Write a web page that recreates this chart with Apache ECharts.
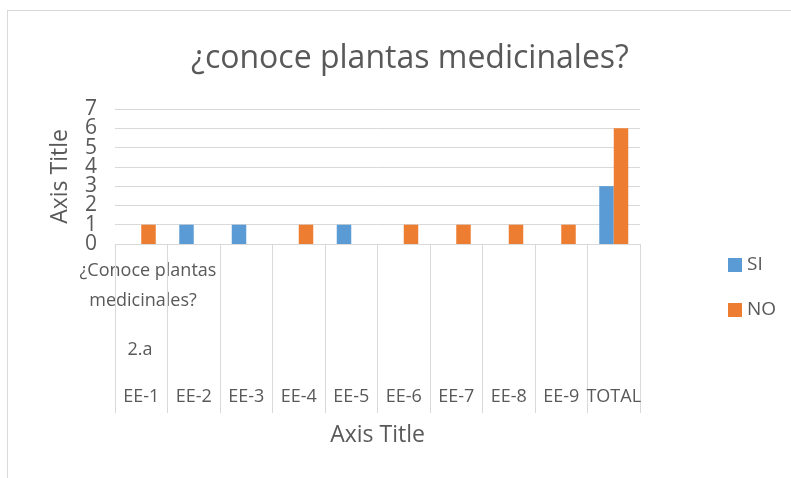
<!DOCTYPE html>
<html>
<head>
<meta charset="utf-8">
<script src="https://cdn.jsdelivr.net/npm/echarts@6/dist/echarts.min.js"></script>
<style>
  html, body { margin: 0; padding: 0; background: #fff; overflow: hidden; }
  #frame { position: absolute; left: 7px; top: 10px; width: 800px; height: 480px; border: 1px solid #d9d9d9; }
  #main { position: absolute; left: 0; top: 0; width: 791px; height: 478px; }
</style>
</head>
<body>
<div id="frame"></div>
<div id="main"></div>
<script>
// datos
const categories = ['EE-1', 'EE-2', 'EE-3', 'EE-4', 'EE-5', 'EE-6', 'EE-7', 'EE-8', 'EE-9', 'TOTAL'];
const siValues = [0, 1, 1, 0, 1, 0, 0, 0, 0, 3];
const noValues = [1, 0, 0, 1, 0, 1, 1, 1, 1, 6];
const yMax = 7;

const font = '"Open Sans", "Liberation Sans", sans-serif';
const gray = '#595959';

const chart = echarts.init(document.getElementById('main'), null, { renderer: 'canvas' });

// las etiquetas del eje y estan muy juntas: pares en un eje, impares en otro
function yAxisFor(parity, main) {
  return {
    type: 'value',
    position: 'left',
    min: 0,
    max: yMax,
    interval: 1,
    name: main ? 'Axis Title' : '',
    nameLocation: 'middle',
    nameGap: 43,
    nameTextStyle: { fontFamily: font, fontSize: 23, color: gray },
    axisLine: { show: false },
    axisTick: { show: false },
    axisLabel: {
      margin: 18, fontFamily: font, fontSize: 21, color: gray,
      formatter: v => (v % 2 === parity ? String(v) : '')
    },
    splitLine: { show: main, lineStyle: { color: '#d9d9d9', width: 1 } }
  };
}

const option = {
  animation: false,
  title: {
    text: '¿conoce plantas medicinales?',
    left: 405,
    textAlign: 'center',
    top: 38,
    textStyle: { fontFamily: font, fontSize: 32, fontWeight: 'normal', color: gray }
  },
  legend: {
    orient: 'vertical',
    left: 723,
    top: 250,
    itemWidth: 14,
    itemHeight: 14,
    itemGap: 25,
    icon: 'rect',
    textStyle: { fontFamily: font, fontSize: 19, lineHeight: 20, color: gray },
    data: ['SI', 'NO']
  },
  grid: { left: 115, right: 151, top: 109, bottom: 234 },
  xAxis: {
    type: 'category',
    data: categories,
    name: 'Axis Title',
    nameLocation: 'middle',
    nameGap: 180,
    nameTextStyle: { fontFamily: font, fontSize: 23, color: gray },
    axisLine: { lineStyle: { color: '#d9d9d9', width: 1 } },
    axisTick: { show: true, length: 169, lineStyle: { color: '#d9d9d9' } },
    axisLabel: { margin: 144, fontFamily: font, fontSize: 18, color: gray, interval: 0 }
  },
  yAxis: [yAxisFor(0, true), yAxisFor(1, false)],
  graphic: [
    {
      type: 'text', x: 148, y: 262,
      style: { text: '¿Conoce plantas', textAlign: 'center', font: '18px ' + font, fill: gray }
    },
    {
      type: 'text', x: 143, y: 292,
      style: { text: 'medicinales?', textAlign: 'center', font: '18px ' + font, fill: gray }
    },
    {
      type: 'text', x: 140, y: 341,
      style: { text: '2.a', textAlign: 'center', font: '18px ' + font, fill: gray }
    }
  ],
  series: [
    {
      name: 'SI', type: 'bar', data: siValues, yAxisIndex: 0,
      barWidth: 14.5, barGap: '0%',
      itemStyle: { color: '#5b9bd5' }
    },
    {
      name: 'NO', type: 'bar', data: noValues, yAxisIndex: 0,
      barWidth: 14.5, barGap: '0%',
      itemStyle: { color: '#ed7d31' }
    }
  ]
};

chart.setOption(option);
</script>
</body>
</html>
